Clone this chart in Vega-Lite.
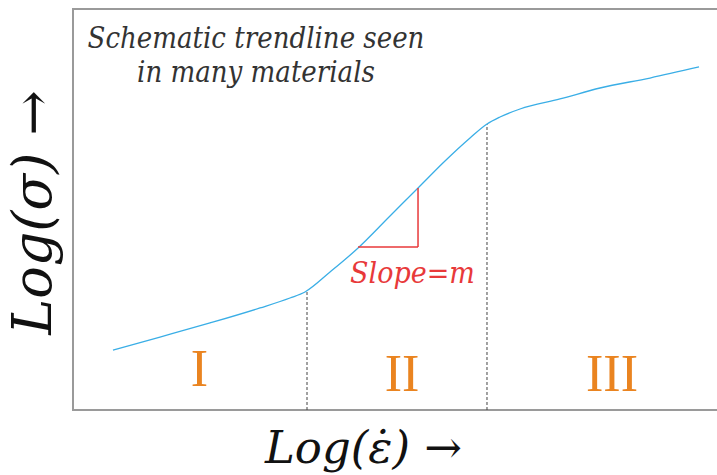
{
  "$schema": "https://vega.github.io/schema/vega-lite/v6.json",
  "autosize": {"type": "none"},
  "padding": {"left": 73, "top": 9, "right": 0, "bottom": 65},
  "width": 650,
  "height": 401,
  "config": {
    "view": {"stroke": "#9a9a9a", "strokeWidth": 2},
    "font": "Liberation Serif"
  },
  "datasets": {
    "curve": [
      {"x": 0.615, "y": 1.496}, {"x": 1.338, "y": 1.82}, {"x": 2.108, "y": 2.17},
      {"x": 2.877, "y": 2.544}, {"x": 3.338, "y": 2.793}, {"x": 3.569, "y": 2.943},
      {"x": 3.954, "y": 3.441}, {"x": 4.369, "y": 4.015}, {"x": 4.877, "y": 4.838},
      {"x": 5.308, "y": 5.536}, {"x": 5.723, "y": 6.209}, {"x": 6.108, "y": 6.783},
      {"x": 6.369, "y": 7.132}, {"x": 6.569, "y": 7.307}, {"x": 6.877, "y": 7.506},
      {"x": 7.492, "y": 7.756}, {"x": 8.108, "y": 8.03}, {"x": 8.877, "y": 8.279},
      {"x": 9.631, "y": 8.554}
    ]
  },
  "layer": [
    {
      "data": {"values": [{"x": 3.6, "y": 0, "y2": 2.943}, {"x": 6.369, "y": 0, "y2": 7.132}]},
      "mark": {"type": "rule", "color": "#444", "strokeDash": [3, 2], "strokeWidth": 1},
      "encoding": {
        "x": {"field": "x", "type": "quantitative", "scale": {"domain": [0, 10], "nice": false, "zero": false},
              "axis": {"domain": false, "ticks": false, "labels": false, "grid": false, "title": "Log(ε̇) →",
                       "titleFont": "DejaVu Serif", "titleFontStyle": "italic", "titleFontWeight": "normal",
                       "titleFontSize": 45, "titleColor": "#111", "titlePadding": 16, "titleX": 290, "titleAlign": "center"}},
        "y": {"field": "y", "type": "quantitative", "scale": {"domain": [0, 10], "nice": false, "zero": false},
              "axis": {"domain": false, "ticks": false, "labels": false, "grid": false, "title": "Log(σ) →",
                       "titleFont": "DejaVu Serif", "titleFontStyle": "italic", "titleFontWeight": "normal",
                       "titleFontSize": 54, "titleColor": "#111", "titlePadding": 12, "titleY": 203, "titleAlign": "center"}},
        "y2": {"field": "y2"}
      }
    },
    {
      "data": {"name": "curve"},
      "mark": {"type": "line", "color": "#3aaee6", "strokeWidth": 1.3, "interpolate": "monotone"},
      "encoding": {
        "x": {"field": "x", "type": "quantitative"},
        "y": {"field": "y", "type": "quantitative"}
      }
    },
    {
      "data": {"values": [
        {"x": 4.385, "x2": 5.308, "y": 4.065, "y2": 4.065},
        {"x": 5.308, "x2": 5.308, "y": 4.065, "y2": 5.536}
      ]},
      "mark": {"type": "rule", "color": "#e8393a", "strokeWidth": 1.5},
      "encoding": {
        "x": {"field": "x", "type": "quantitative"},
        "x2": {"field": "x2"},
        "y": {"field": "y", "type": "quantitative"},
        "y2": {"field": "y2"}
      }
    },
    {
      "data": {"values": [
        {"x": 2.815, "y": 9.03, "t": "Schematic trendline seen"},
        {"x": 2.815, "y": 8.18, "t": "in many materials"}
      ]},
      "mark": {"type": "text", "align": "center", "baseline": "alphabetic", "font": "DejaVu Serif Condensed", "fontStyle": "italic", "fontSize": 29, "color": "#333"},
      "encoding": {
        "x": {"field": "x", "type": "quantitative"},
        "y": {"field": "y", "type": "quantitative"},
        "text": {"field": "t"}
      }
    },
    {
      "data": {"values": [{"x": 4.262, "y": 3.167, "t": "Slope=m"}]},
      "mark": {"type": "text", "align": "left", "baseline": "alphabetic", "font": "DejaVu Serif Condensed", "fontStyle": "italic", "fontSize": 30, "color": "#e8393a"},
      "encoding": {
        "x": {"field": "x", "type": "quantitative"},
        "y": {"field": "y", "type": "quantitative"},
        "text": {"field": "t"}
      }
    },
    {
      "data": {"values": [
        {"x": 1.946, "y": 0.599, "t": "I"},
        {"x": 5.062, "y": 0.474, "t": "II"},
        {"x": 8.292, "y": 0.474, "t": "III"}
      ]},
      "mark": {"type": "text", "align": "center", "baseline": "alphabetic", "font": "Liberation Serif", "fontSize": 52, "color": "#ea8420"},
      "encoding": {
        "x": {"field": "x", "type": "quantitative"},
        "y": {"field": "y", "type": "quantitative"},
        "text": {"field": "t"}
      }
    }
  ]
}
